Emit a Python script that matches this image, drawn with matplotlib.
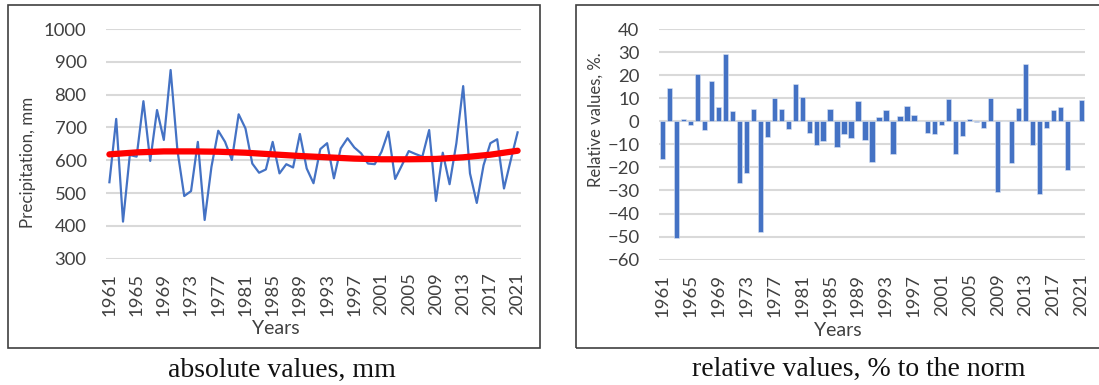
import matplotlib.pyplot as plt
import numpy as np
from matplotlib.patches import Rectangle

# Annual precipitation, 1961-2021
years = list(range(1961, 2022))

precip_mm = [533, 726, 413, 616, 611, 780, 598, 753, 662, 875,
             630, 491, 506, 656, 418, 580, 690, 656, 601, 740,
             697, 590, 562, 572, 656, 560, 588, 578, 680, 575,
             530, 634, 652, 545, 636, 667, 639, 621, 590, 588,
             626, 687, 543, 585, 628, 619, 611, 692, 476, 623,
             527, 652, 826, 560, 470, 585, 652, 664, 514, 601,
             685]

# polynomial trend at the tick years
trend_years = [1961, 1965, 1969, 1973, 1977, 1981, 1985, 1989,
               1993, 1997, 2001, 2005, 2009, 2013, 2017, 2021]
trend_mm = [618, 624, 627, 627, 626, 623, 618, 613,
            609, 605, 603, 603, 604, 609, 617, 629]

# deviation from the norm, %
rel_pct = [-16.3, 14.3, -50.4, 1.0, -1.6, 20.4, -3.8, 17.5, 6.1, 29.0,
           4.5, -26.6, -22.5, 5.3, -47.8, -6.9, 10.0, 5.2, -3.2, 16.0,
           10.4, -4.9, -10.3, -8.5, 5.3, -11.0, -5.3, -7.4, 8.8, -8.1,
           -17.8, 2.0, 4.9, -14.2, 2.3, 6.6, 2.6, 0.0, -5.1, -5.3,
           -1.6, 9.7, -14.3, -6.2, 1.0, -0.3, -2.9, 10.1, -30.5, 0.3,
           -17.9, 5.6, 24.9, -10.3, -31.6, -2.9, 4.9, 6.4, -21.0, 0.0,
           9.2]

tick_years = list(range(1961, 2022, 4))

blue = '#4472C4'
txt = '#404040'
grid_c = '#D9D9D9'
sans = ['Lato', 'DejaVu Sans']

W, H = 1099, 385
fig = plt.figure(figsize=(W / 100, H / 100), dpi=100)


def px_box(x0, x1, ytop, ybot):
    return [x0 / W, 1 - ybot / H, (x1 - x0) / W, (ybot - ytop) / H]


def style(ax, ymin, ymax, step):
    ax.set_xlim(1960.5, 2021.5)
    ax.set_ylim(ymin, ymax)
    ax.set_yticks(np.arange(ymin, ymax + step / 2, step))
    ax.set_xticks(tick_years)
    ax.set_xticklabels([str(y) for y in tick_years], rotation=90)
    for s in ax.spines.values():
        s.set_visible(False)
    ax.grid(axis='y', color=grid_c, linewidth=1.5)
    ax.set_axisbelow(True)
    ax.tick_params(length=0, colors=txt, labelsize=13.3)
    ax.tick_params(axis='y', pad=14)
    ax.tick_params(axis='x', pad=10)
    for lab in ax.get_xticklabels() + ax.get_yticklabels():
        lab.set_family(sans)


# frames around each panel
fig.patches.append(Rectangle((8 / W, 1 - 348 / H), 532 / W, 343 / H,
                             transform=fig.transFigure, fill=False,
                             edgecolor='#404040', linewidth=1.2))
fig.patches.append(Rectangle((576 / W, 1 - 348 / H), 530 / W, 343 / H,
                             transform=fig.transFigure, fill=False,
                             edgecolor='#404040', linewidth=1.2))

########################################################
# Left: absolute values
########################################################
ax1 = fig.add_axes(px_box(106, 521, 29, 258.7))
ax1.plot(years, precip_mm, color=blue, linewidth=1.6, zorder=3)
ax1.plot(trend_years, trend_mm, color='#FF0000', linewidth=4.5,
         solid_capstyle='round', zorder=4)
style(ax1, 300, 1000, 100)

fig.text(28.5 / W, 1 - 162.5 / H, 'Precipitation, mm', rotation=90,
         ha='center', va='center', color=txt, fontsize=12.2, family=sans)
fig.text(276 / W, 1 - 328 / H, 'Years', ha='center', va='center',
         color=txt, fontsize=14, family=sans)

########################################################
# Right: relative values
########################################################
ax2 = fig.add_axes(px_box(659, 1085, 29, 259.7))
ax2.bar(years, rel_pct, width=0.75, color=blue, edgecolor='#DCE4F2',
        linewidth=0.4, zorder=3)
style(ax2, -60, 40, 10)

fig.text(596 / W, 1 - 120 / H, 'Relative values, %.', rotation=90,
         ha='center', va='center', color=txt, fontsize=12, family=sans)
fig.text(838 / W, 1 - 331 / H, 'Years', ha='center', va='center',
         color=txt, fontsize=14, family=sans)

# captions under the panels
fig.text(282 / W, 1 - 370 / H, 'absolute values, mm', ha='center',
         va='center', fontsize=20, family='Liberation Serif', color='#111111')
fig.text(859 / W, 1 - 369 / H, 'relative values, % to the norm',
         ha='center', va='center', fontsize=20, family='Liberation Serif',
         color='#111111')

fig.savefig('out.png', dpi=100)
